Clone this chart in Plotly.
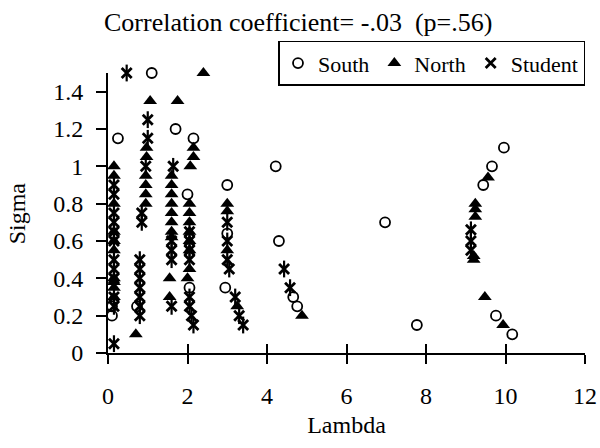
import plotly.graph_objects as go

# ---- data (Lambda, Sigma) ----
south_lambda = [0.1, 0.1, 0.25, 1.1, 1.7, 2.15, 2.0, 3.0, 4.22, 4.3, 2.05, 0.73, 3.0, 2.95,
                4.66, 4.76, 6.97, 7.77, 9.96, 9.66, 9.44, 9.76, 10.17]
south_sigma = [0.2, 0.25, 1.15, 1.5, 1.2, 1.15, 0.85, 0.9, 1.0, 0.6, 0.35, 0.25, 0.64, 0.35,
               0.3, 0.25, 0.7, 0.15, 1.1, 1.0, 0.9, 0.2, 0.1]

north_lambda = [0.15, 0.15, 0.15, 0.15, 0.15, 0.15, 0.15, 0.15, 0.15, 0.15,
                0.7,
                1.06, 0.97, 0.97, 0.95, 0.95, 0.95, 0.95,
                1.75,
                1.6, 1.6, 1.6, 1.6, 1.6, 1.6, 1.6, 1.6, 1.55, 1.55,
                2.15, 2.15, 2.07, 2.05, 2.05, 2.05, 2.05, 2.05, 2.05, 2.05, 2.0,
                2.4,
                3.0, 3.0, 3.0, 3.25,
                4.88,
                9.56, 9.24, 9.24, 9.24, 9.2, 9.2, 9.48, 9.94]
north_sigma = [1.0, 0.95, 0.8, 0.65, 0.6, 0.55, 0.4, 0.35, 0.3, 0.38,
               0.1,
               1.35, 1.1, 1.05, 0.95, 0.9, 0.85, 0.8,
               1.35,
               0.95, 0.9, 0.85, 0.8, 0.75, 0.7, 0.65, 0.62, 0.4, 0.3,
               1.1, 1.05, 1.0, 0.8, 0.75, 0.7, 0.65, 0.6, 0.55, 0.45, 0.4,
               1.5,
               0.8, 0.76, 0.55, 0.25,
               0.2,
               0.94, 0.8, 0.77, 0.73, 0.5, 0.52, 0.3, 0.15]

student_lambda = [0.15, 0.15, 0.15, 0.15, 0.15, 0.15, 0.15, 0.15, 0.15, 0.15, 0.15, 0.15,
                  0.47,
                  0.85, 0.85, 0.8, 0.8, 0.8, 0.8, 0.8, 0.8, 0.8,
                  1.0, 1.0, 0.95,
                  1.64, 1.6, 1.6, 1.6, 1.6,
                  2.05, 2.05, 2.05, 2.05, 2.05, 2.05, 2.1, 2.15,
                  3.0, 3.0, 3.0, 3.05, 3.2, 3.3, 3.4,
                  4.43, 4.58,
                  9.13, 9.13, 9.13]
student_sigma = [0.05, 0.25, 0.3, 0.4, 0.45, 0.5, 0.6, 0.65, 0.7, 0.75, 0.85, 0.9,
                 1.5,
                 0.75, 0.7, 0.5, 0.45, 0.4, 0.35, 0.3, 0.25, 0.2,
                 1.25, 1.15, 1.0,
                 1.0, 0.6, 0.55, 0.5, 0.25,
                 0.65, 0.6, 0.55, 0.5, 0.3, 0.25, 0.2, 0.15,
                 0.7, 0.6, 0.5, 0.45, 0.3, 0.2, 0.15,
                 0.45, 0.35,
                 0.66, 0.6, 0.55]

x_ticks = [0, 2, 4, 6, 8, 10, 12]
y_ticks = [0, 0.2, 0.4, 0.6, 0.8, 1.0, 1.2, 1.4]
y_tick_text = ["0", "0.2", "0.4", "0.6", "0.8", "1", "1.2", "1.4"]

FONT = "Liberation Serif, Times New Roman, serif"
FS = 24

fig = go.Figure()
fig.add_trace(go.Scatter(x=south_lambda, y=south_sigma, mode="markers", name="South",
                         marker=dict(symbol="circle-open", size=10, color="black",
                                     line=dict(width=1.8, color="black")),
                         cliponaxis=False))
fig.add_trace(go.Scatter(x=north_lambda, y=north_sigma, mode="markers", name="North",
                         marker=dict(symbol="triangle-up", size=12, color="black",
                                     line=dict(width=0)),
                         cliponaxis=False))
fig.add_trace(go.Scatter(x=student_lambda, y=student_sigma, mode="markers", name="Student",
                         marker=dict(symbol="x-thin-open", size=10, color="black",
                                     line=dict(width=2.8, color="black")),
                         cliponaxis=False, legendgroup="st"))
fig.add_trace(go.Scatter(x=student_lambda, y=student_sigma, mode="markers", name="Student",
                         marker=dict(symbol="line-ns-open", size=12, color="black",
                                     line=dict(width=2.2, color="black")),
                         cliponaxis=False, legendgroup="st", showlegend=False))
# invisible trace for overlay axis (gives crossing x ticks)
fig.add_trace(go.Scatter(x=[None], y=[None], xaxis="x2", showlegend=False,
                         hoverinfo="skip"))

fig.update_layout(
    width=600, height=448,
    margin=dict(l=108, r=15, t=73, b=95),
    paper_bgcolor="white", plot_bgcolor="white",
    font=dict(family=FONT, size=FS, color="black"),
    title=dict(text="Correlation coefficient= -.03  (p=.56)", x=0.497, xanchor="center",
               y=0.951, yanchor="middle", font=dict(family=FONT, size=26, color="black")),
    showlegend=True,
    legend=dict(orientation="h", x=1.0, y=1.115, xanchor="right", yanchor="top",
                bordercolor="black", borderwidth=1.5, bgcolor="white",
                font=dict(family=FONT, size=22, color="black"),
                itemwidth=30, tracegroupgap=0),
    xaxis=dict(range=[0, 12], tickvals=x_ticks, ticks="outside", ticklen=9, tickwidth=1.5,
               tickcolor="black", showline=True, linecolor="black", linewidth=2,
               showgrid=False, zeroline=False, ticklabelstandoff=11, automargin=False,
               title=dict(text="Lambda", standoff=8, font=dict(family=FONT, size=FS, color="black")),
               tickfont=dict(family=FONT, size=FS, color="black")),
    xaxis2=dict(range=[0, 12], tickvals=x_ticks, overlaying="x", matches="x", side="bottom",
                ticks="inside", ticklen=9, tickwidth=1.5, tickcolor="black",
                showticklabels=False, showline=False, showgrid=False, zeroline=False),
    yaxis=dict(range=[0, 1.5], tickvals=y_ticks, ticktext=y_tick_text, ticks="outside",
               ticklen=10, tickwidth=1.5, tickcolor="black", showline=True,
               linecolor="black", linewidth=2, showgrid=False, zeroline=False,
               ticklabelstandoff=8, automargin=False,
               tickfont=dict(family=FONT, size=FS, color="black")),
    annotations=[dict(text="Sigma", xref="paper", yref="paper", x=-0.19, y=0.5,
                      xanchor="center", yanchor="middle", textangle=-90, showarrow=False,
                      font=dict(family=FONT, size=FS, color="black"))],
)

fig.write_html("out.html")
